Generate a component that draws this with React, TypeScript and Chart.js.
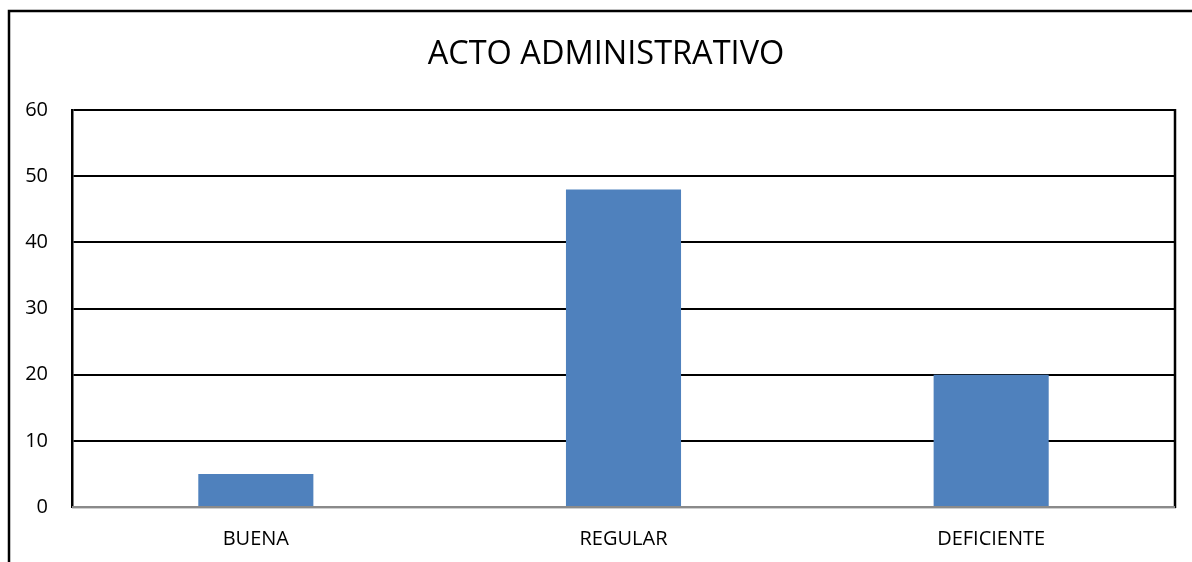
import React, { useEffect, useRef } from "react";
import { Chart, registerables } from "chart.js";

Chart.register(...registerables);

const TITLE = "ACTO ADMINISTRATIVO";
const categories = ["BUENA", "REGULAR", "DEFICIENTE"];
const values = [5, 48, 20];
const yMin = 0;
const yMax = 60;
const yStep = 10;

const FONT = "'Open Sans', 'Liberation Sans', sans-serif";

const framePlugin = {
  id: "framePlugin",
  beforeDraw(chart: any) {
    const ctx = chart.ctx;
    ctx.save();
    ctx.fillStyle = "#ffffff";
    ctx.fillRect(0, 0, chart.width, chart.height);
    ctx.strokeStyle = "#000000";
    ctx.lineWidth = 2.5;
    ctx.beginPath();
    ctx.moveTo(9, chart.height + 2);
    ctx.lineTo(9, 11);
    ctx.lineTo(chart.width + 2, 11);
    ctx.stroke();
    ctx.fillStyle = "#000000";
    ctx.font = `32.5px ${FONT}`;
    ctx.textAlign = "center";
    ctx.textBaseline = "middle";
    ctx.fillText(TITLE, 606, 55);
    ctx.restore();
  },
  afterDatasetsDraw(chart: any) {
    const { ctx, chartArea } = chart;
    ctx.save();
    ctx.strokeStyle = "#000000";
    ctx.lineWidth = 2.5;
    ctx.beginPath();
    ctx.moveTo(chartArea.right, chartArea.top - 1);
    ctx.lineTo(chartArea.right, chartArea.bottom + 1);
    ctx.stroke();
    ctx.strokeStyle = "#8a8a8a";
    ctx.lineWidth = 2;
    ctx.beginPath();
    ctx.moveTo(chartArea.left, chartArea.bottom);
    ctx.lineTo(chartArea.right, chartArea.bottom);
    ctx.stroke();
    ctx.strokeStyle = "#cfcfcf";
    ctx.lineWidth = 1;
    ctx.beginPath();
    ctx.moveTo(chartArea.left, chartArea.bottom + 1.5);
    ctx.lineTo(chartArea.right + 1, chartArea.bottom + 1.5);
    ctx.stroke();
    ctx.restore();
  },
};

export default function App() {
  const ref = useRef<HTMLCanvasElement>(null);
  useEffect(() => {
    if (!ref.current) return;
    const chart = new Chart(ref.current, {
      type: "bar",
      data: {
        labels: categories,
        datasets: [
          {
            data: values,
            backgroundColor: "#4F81BD",
            borderWidth: 0,
            categoryPercentage: 1,
            barPercentage: 0.313,
          },
        ],
      },
      options: {
        animation: false,
        responsive: false,
        devicePixelRatio: 1,
        layout: { padding: { left: 0, top: 110, right: 17, bottom: 0 } },
        plugins: {
          legend: { display: false },
          title: { display: false },
          tooltip: { enabled: false },
        },
        scales: {
          x: {
            grid: { display: false, drawTicks: false },
            border: { display: false },
            ticks: {
              color: "#000000",
              font: { family: FONT, size: 20 },
              padding: 20,
              maxRotation: 0,
            },
            afterFit(scale: any) {
              scale.height = 55;
            },
          },
          y: {
            min: yMin,
            max: yMax,
            ticks: {
              stepSize: yStep,
              color: "#000000",
              font: { family: FONT, size: 20 },
              padding: 24,
            },
            grid: {
              drawTicks: false,
              lineWidth: 2,
              color: (c: any) => (c.tick && c.tick.value === 0 ? "rgba(0,0,0,0)" : "#000000"),
            },
            border: { display: true, color: "#000000", width: 2.5 },
            afterFit(scale: any) {
              scale.width = 72;
            },
          },
        },
      },
      plugins: [framePlugin],
    });
    return () => chart.destroy();
  }, []);
  return (
    <div style={{ position: "fixed", left: 0, top: 0, width: 1192, height: 562 }}>
      <canvas ref={ref} width={1192} height={562} style={{ display: "block", width: 1192, height: 562 }} />
    </div>
  );
}
